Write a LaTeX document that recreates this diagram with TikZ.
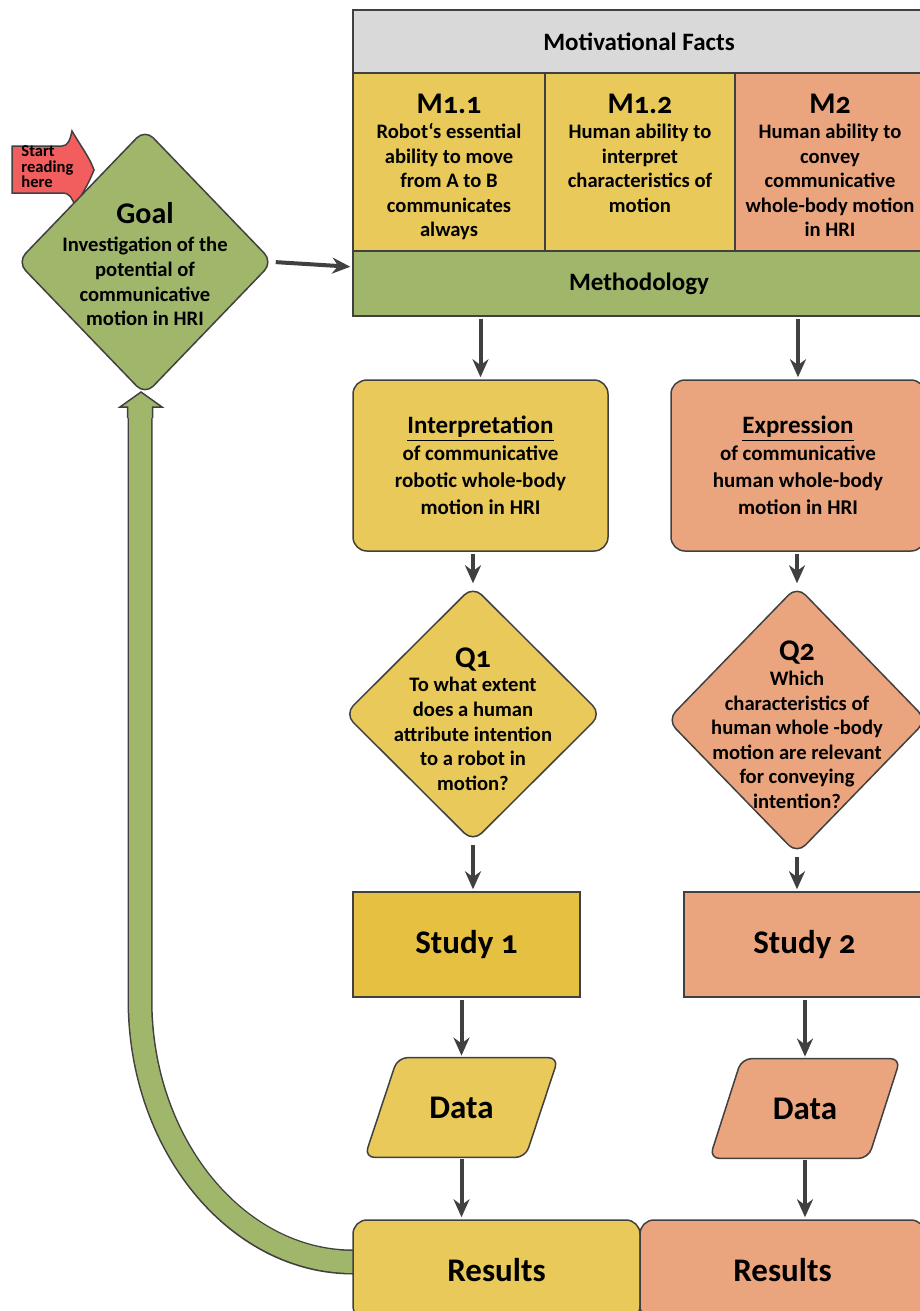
\documentclass[tikz,border=0pt]{standalone}
\usepackage{fontspec}
\setmainfont{Carlito}[Numbers=OldStyle]
\usetikzlibrary{arrows.meta, positioning, shapes.geometric, calc}

\definecolor{factgray}{HTML}{D9D9D9}
\definecolor{mustard}{HTML}{E8C95A}
\definecolor{mustarddark}{HTML}{E6C040}
\definecolor{salmon}{HTML}{EBA57E}
\definecolor{olive}{HTML}{A0B66A}
\definecolor{flagred}{HTML}{F25E5E}
\definecolor{edge}{HTML}{404040}

\newcommand\fcbody{\bfseries\fontsize{10.3}{12.3}\selectfont}
\newcommand\fcmid{\bfseries\fontsize{10.5}{13.5}\selectfont}
\newcommand\fcsub{\bfseries\fontsize{12.5}{15}\selectfont}
\newcommand\fchead{\bfseries\fontsize{15}{17}\selectfont}
\newcommand\fcbig{\bfseries\fontsize{16.5}{19}\selectfont}
\newcommand\fcflag{\bfseries\fontsize{8.3}{7.8}\selectfont}

\pgfdeclarelayer{back}
\pgfsetlayers{back,main}

\begin{document}
\begin{tikzpicture}[
    x=0.5pt, y=-0.5pt,
    box/.style={rectangle, draw=edge, line width=0.75pt, inner sep=0pt, align=center, font=\fcbody},
    roundbox/.style={box, rounded corners=7pt},
    decision/.style={diamond, draw=edge, line width=0.75pt, rounded corners=6pt, inner sep=0pt},
    datatext/.style={rectangle, inner sep=0pt, minimum width=80pt, minimum height=49.5pt, font=\fcbig},
    dataframe/.style={draw=edge, line width=0.75pt, rounded corners=5pt},
    txt/.style={align=center, inner sep=0pt, font=\fcbody},
    arrow/.style={-{Stealth[length=9pt, width=8pt]}, line width=2pt, draw=edge,
      shorten <=1pt, shorten >=1pt}
  ]
    \useasboundingbox (0,0) rectangle (920,1311);

    % Feedback loop back to the goal
    \coordinate (looptip) at (141,392);
    \draw[line width=12.5pt, edge] (353,1262) .. controls (236,1262) and (140,1144) .. (140,1000) -- (140,418);
    \draw[line width=11pt, olive] (354,1262) .. controls (236,1262) and (140,1144) .. (140,1000) -- (140,418);
    \draw[edge, line width=0.75pt, fill=olive] (127.5,418) -- (127.5,407) -- (120,407) -- (looptip)
      -- (162,407) -- (152.5,407) -- (152.5,418);

    % Start flag
    \draw[edge, line width=0.75pt, fill=flagred] (12,146) -- (62,146)
      .. controls (68,146) and (70,140) .. (72,131)
      .. controls (80,145) and (90,158) .. (94,170)
      .. controls (88,185) and (80,198) .. (75,206)
      .. controls (72,198) and (70,193) .. (62,193) -- (12,193) -- cycle;
    \node[font=\fcflag, align=left, inner sep=0pt, anchor=west] (flagtxt) at (21,167) {Start\\reading\\here};

    % Goal
    \node[decision, fill=olive, minimum width=128pt, minimum height=133pt] (goal) at (145,262) {};
    \node[txt] (goaltxt) at ($(goal)+(0,2)$) {{\fchead Goal}\\[2pt]Investigation of the\\potential of\\communicative\\motion in HRI};

    % Motivational facts
    \node[box, fill=factgray, minimum width=286pt, minimum height=31.5pt, font=\fcsub] (facts) at (639,41.5) {Motivational Facts};
    \node[box, fill=mustard, minimum width=96pt, minimum height=89pt] (m11) at (449,162) {};
    \node[box, fill=mustard, minimum width=95pt, minimum height=89pt] (m12) at (640,162) {};
    \node[box, fill=salmon, minimum width=95pt, minimum height=89pt] (m2) at (830,162) {};
    \node[txt, anchor=north] (m11txt) at (449,94) {{\fchead M1.1}\\Robot‘s essential\\ability to move\\from A to B\\communicates\\always};
    \node[txt, anchor=north] (m12txt) at (640,94) {{\fchead M1.2}\\Human ability to\\interpret\\characteristics of\\motion};
    \node[txt, anchor=north] (m2txt) at (830,94) {{\fchead M2}\\Human ability to\\convey\\communicative\\whole-body motion\\in HRI};
    \node[box, fill=olive, minimum width=286pt, minimum height=32.5pt, font=\fcsub] (method) at (639,283.5) {Methodology};

    % Two branches
    \node[roundbox, fill=mustard, minimum width=127.5pt, minimum height=85.5pt, font=\fcmid] (interp) at (480.5,465.5)
      {{\fcsub\underline{Interpretation}}\\of communicative\\robotic whole-body\\motion in HRI};
    \node[roundbox, fill=salmon, minimum width=127pt, minimum height=85.5pt, font=\fcmid] (expr) at (798,465.5)
      {{\fcsub\underline{Expression}}\\of communicative\\human whole-body\\motion in HRI};

    \node[decision, fill=mustard, minimum width=128.5pt, minimum height=128pt] (q1) at (473,714) {};
    \node[txt] (q1txt) at ($(q1)+(0,5)$) {{\fchead Q1}\\To what extent\\does a human\\attribute intention\\to a robot in\\motion?};
    \node[decision, fill=salmon, minimum width=130pt, minimum height=134pt] (q2) at (797,720) {};
    \node[txt] (q2txt) at ($(q2)+(0,5)$) {{\fchead Q2}\\Which\\characteristics of\\human whole -body\\motion are relevant\\for conveying\\intention?};

    \node[box, fill=mustarddark, minimum width=113.5pt, minimum height=52.5pt, font=\fcbig] (study1) at (466.5,944.5) {Study 1};
    \node[box, fill=salmon, minimum width=120.5pt, minimum height=52.5pt, font=\fcbig] (study2) at (804.5,944.5) {Study 2};

    \node[datatext] (data1) at (461.5,1107.5) {Data};
    \node[datatext, minimum width=79pt] (data2) at (805,1108.5) {Data};
    \begin{pgfonlayer}{back}
      \draw[dataframe, fill=mustard] ($(data1.south west)+(-16.5,0)$) -- ($(data1.north west)+(16.5,0)$)
        -- ($(data1.north east)+(16.5,0)$) -- ($(data1.south east)+(-16.5,0)$) -- cycle;
      \draw[dataframe, fill=salmon] ($(data2.south west)+(-16,0)$) -- ($(data2.north west)+(16,0)$)
        -- ($(data2.north east)+(16,0)$) -- ($(data2.south east)+(-16,0)$) -- cycle;
    \end{pgfonlayer}

    \node[roundbox, fill=mustard, minimum width=143.5pt, minimum height=50pt, font=\fcbig] (res1) at (496.5,1270) {Results};
    \node[roundbox, fill=salmon, minimum width=142.5pt, minimum height=50pt, font=\fcbig] (res2) at (782.5,1270) {Results};

    % Arrows
    \draw[arrow] (goal.east) -- ($(method.north west)!0.25!(method.south west)$);
    \draw[arrow] (interp.north |- method.south) -- (interp.north);
    \draw[arrow] (expr.north |- method.south) -- (expr.north);
    \draw[arrow] (q1.north |- interp.south) -- (q1.north);
    \draw[arrow] (q2.north |- expr.south) -- (q2.north);
    \draw[arrow] (q1.south) -- (q1.south |- study1.north);
    \draw[arrow] (q2.south) -- (q2.south |- study2.north);
    \draw[arrow] (data1.north |- study1.south) -- (data1.north);
    \draw[arrow] (data2.north |- study2.south) -- (data2.north);
    \draw[arrow] (data1.south) -- (data1.south |- res1.north);
    \draw[arrow] (data2.south) -- (data2.south |- res2.north);
  \end{tikzpicture}
\end{document}
